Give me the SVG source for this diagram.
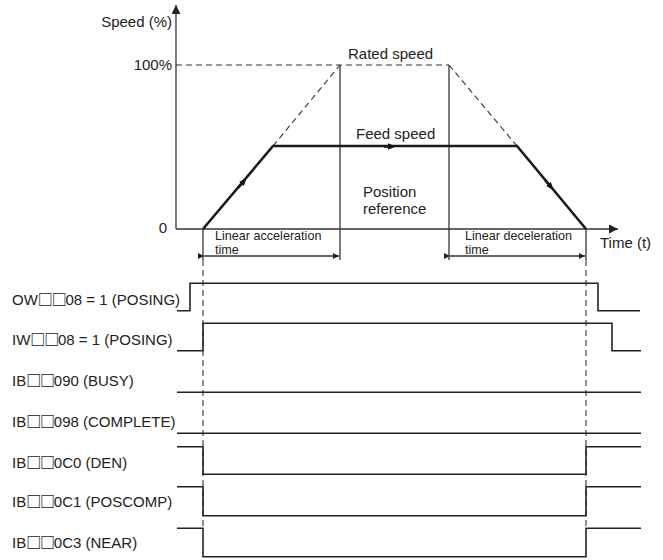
<svg xmlns="http://www.w3.org/2000/svg" width="663" height="560" viewBox="0 0 663 560">
<style>
text{font-family:"Liberation Sans",Arial,"DejaVu Sans",sans-serif;fill:#222}
.lbl{font-size:15px}
.sm{font-size:12.6px}
.bx{font-family:"Noto Sans CJK JP","DejaVu Sans",sans-serif;font-size:15px;font-weight:bold;letter-spacing:-1.2px}
.ax{stroke:#333;stroke-width:1.3;fill:none}
.th{stroke:#1a1a1a;stroke-width:2.6;fill:none}
.ds{stroke:#333;stroke-width:1.1;fill:none;stroke-dasharray:6,4}
.sig{stroke:#222;stroke-width:1.6;fill:none}
</style>
<defs>
<marker id="ah" viewBox="0 0 10 10" refX="10" refY="5" markerWidth="6" markerHeight="6" orient="auto" markerUnits="userSpaceOnUse"><path d="M0,0L10,5L0,10z" fill="#222"/></marker>
<marker id="axh" viewBox="0 0 10 10" refX="10" refY="5" markerWidth="9" markerHeight="9" orient="auto" markerUnits="userSpaceOnUse"><path d="M0,0L10,5L0,10z" fill="#222"/></marker>
<marker id="mid" viewBox="0 0 10 10" refX="5" refY="5" markerWidth="8" markerHeight="8" orient="auto" markerUnits="userSpaceOnUse"><path d="M0,1L10,5L0,9z" fill="#111"/></marker>
</defs>
<g id="axes">
<line class="ax" x1="176" y1="229" x2="176" y2="5" marker-end="url(#axh)"/>
<line class="ax" x1="176" y1="229" x2="618" y2="229" marker-end="url(#axh)"/>
<text class="lbl" x="172" y="27" text-anchor="end">Speed (%)</text>
<text class="lbl" x="172" y="70" text-anchor="end">100%</text>
<text class="lbl" x="167" y="233" text-anchor="end">0</text>
<text class="lbl" x="600" y="248">Time (t)</text>
</g>
<g id="profile">
<path class="ds" d="M176,65H340L449,65"/>
<path class="ds" d="M273,146L340,65M449,65L517,146"/>
<line class="ax" x1="340" y1="65" x2="340" y2="260"/>
<line class="ax" x1="449" y1="65" x2="449" y2="260"/>
<path class="th" d="M203,229L273,146H517L586,229"/>
<path d="M238,188L244,181" class="th" marker-end="url(#mid)"/>
<path d="M384,146.5L392,146.5" class="th" marker-end="url(#mid)"/>
<path d="M545,180L551,187" class="th" marker-end="url(#mid)"/>
<text class="lbl" x="348" y="59">Rated speed</text>
<text class="lbl" x="356" y="139">Feed speed</text>
<text class="lbl" x="363" y="197">Position</text>
<text class="lbl" x="363" y="214">reference</text>
</g>
<g id="times">
<line class="ax" x1="203" y1="229" x2="203" y2="260"/>
<line class="ax" x1="586" y1="229" x2="586" y2="260"/>
<line class="ax" x1="204" y1="256" x2="339" y2="256" marker-start="url(#ah)" marker-end="url(#ah)"/>
<line class="ax" x1="450" y1="256" x2="585" y2="256" marker-start="url(#ah)" marker-end="url(#ah)"/>
<text class="sm" x="215" y="239.5">Linear acceleration</text>
<text class="sm" x="215" y="253.8">time</text>
<text class="sm" x="465" y="239.5">Linear deceleration</text>
<text class="sm" x="465" y="253.8">time</text>
<line class="ds" x1="203" y1="260" x2="203" y2="530"/>
<line class="ds" x1="586" y1="260" x2="586" y2="530"/>
</g>
<g id="signals">
<text class="lbl" x="12" y="305">OW<tspan class="bx">□□</tspan>08 = 1 (POSING)</text>
<path class="sig" d="M177,310.7H190V283.3H598V310.7H640"/>
<text class="lbl" x="12" y="345">IW<tspan class="bx">□□</tspan>08 = 1 (POSING)</text>
<path class="sig" d="M177,350.7H203V323.3H612V350.7H641"/>
<text class="lbl" x="12" y="386">IB<tspan class="bx">□□</tspan>090 (BUSY)</text>
<path class="sig" d="M177,392.3H641"/>
<text class="lbl" x="12" y="427">IB<tspan class="bx">□□</tspan>098 (COMPLETE)</text>
<path class="sig" d="M177,433.3H641"/>
<text class="lbl" x="12" y="468">IB<tspan class="bx">□□</tspan>0C0 (DEN)</text>
<path class="sig" d="M177,446.7H203V474.3H586V446.7H641"/>
<text class="lbl" x="12" y="507">IB<tspan class="bx">□□</tspan>0C1 (POSCOMP)</text>
<path class="sig" d="M177,486.7H203V515.7H586V486.7H641"/>
<text class="lbl" x="12" y="548">IB<tspan class="bx">□□</tspan>0C3 (NEAR)</text>
<path class="sig" d="M177,528.3H203V556.7H586V528.3H641"/>
</g>
</svg>
